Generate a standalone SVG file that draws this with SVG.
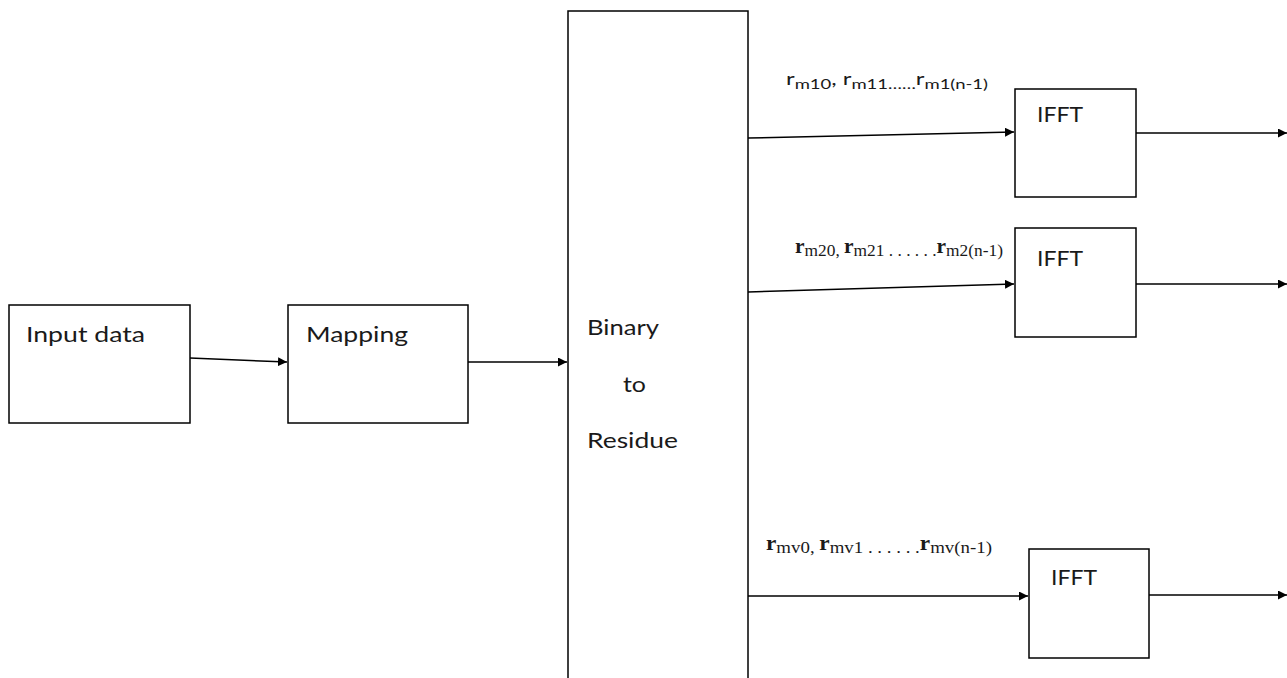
<svg xmlns="http://www.w3.org/2000/svg" width="1287" height="678" viewBox="0 0 1287 678">
<style>
.box{fill:#fff;stroke:#000;stroke-width:1.5}
.lbl{font-family:Lato,"Open Sans",sans-serif;font-size:22px;fill:#1a1a1a}
.sans{font-family:Lato,"Open Sans",sans-serif;fill:#1a1a1a}
.serif{font-family:"Liberation Serif",serif;fill:#1a1a1a}
.con{stroke:#000;stroke-width:1.5;fill:none;marker-end:url(#ah)}
</style>
<defs>
<marker id="ah" viewBox="0 0 10 10" refX="10" refY="5" markerWidth="9" markerHeight="9" markerUnits="userSpaceOnUse" orient="auto">
<path d="M0,0 L10,5 L0,10 z" fill="#000"/>
</marker>
</defs>
<rect width="1287" height="678" fill="#fff"/>
<g id="input">
<rect class="box" x="9" y="305" width="181" height="118"/>
<text class="lbl" x="26" y="342" textLength="119" lengthAdjust="spacingAndGlyphs">Input data</text>
</g>
<g id="mapping">
<rect class="box" x="288" y="305" width="180" height="118"/>
<text class="lbl" x="306" y="342" textLength="102" lengthAdjust="spacingAndGlyphs">Mapping</text>
</g>
<g id="binary">
<rect class="box" x="568" y="11" width="180" height="680"/>
<text class="lbl" x="587" y="335" textLength="72" lengthAdjust="spacingAndGlyphs">Binary</text>
<text class="lbl" x="623" y="392" textLength="23" lengthAdjust="spacingAndGlyphs">to</text>
<text class="lbl" x="587" y="448" textLength="91" lengthAdjust="spacingAndGlyphs">Residue</text>
</g>
<g id="ifft1">
<rect class="box" x="1015" y="89" width="121" height="108"/>
<text class="lbl" x="1037" y="122" font-size="19" textLength="46" lengthAdjust="spacingAndGlyphs">IFFT</text>
</g>
<g id="ifft2">
<rect class="box" x="1015" y="228" width="121" height="109"/>
<text class="lbl" x="1037" y="266" font-size="19" textLength="46" lengthAdjust="spacingAndGlyphs">IFFT</text>
</g>
<g id="ifft3">
<rect class="box" x="1029" y="549" width="120" height="109"/>
<text class="lbl" x="1051" y="585" font-size="19" textLength="46" lengthAdjust="spacingAndGlyphs">IFFT</text>
</g>
<g id="connectors">
<line class="con" x1="190" y1="358" x2="287" y2="362"/>
<line class="con" x1="468" y1="362" x2="567" y2="362"/>
<line class="con" x1="748" y1="138" x2="1014" y2="132"/>
<line class="con" x1="748" y1="292" x2="1014" y2="284"/>
<line class="con" x1="748" y1="596" x2="1028" y2="596"/>
<line class="con" x1="1136" y1="133" x2="1287" y2="133"/>
<line class="con" x1="1136" y1="284" x2="1287" y2="284"/>
<line class="con" x1="1149" y1="595" x2="1287" y2="595"/>
</g>
<g id="labels">
<text class="sans" x="786" y="85" font-size="18" textLength="202" lengthAdjust="spacingAndGlyphs">r<tspan font-size="14" dy="4">m10</tspan><tspan dy="-4">, r</tspan><tspan font-size="14" dy="4">m11</tspan><tspan font-size="14">……</tspan><tspan dy="-4">r</tspan><tspan font-size="14" dy="4">m1(n-1)</tspan></text>
<text class="serif" x="795" y="253" font-size="21" font-weight="bold" textLength="208" lengthAdjust="spacingAndGlyphs">r<tspan font-size="17" font-weight="normal" dy="3">m20</tspan><tspan font-weight="normal" font-size="17">, </tspan><tspan dy="-3">r</tspan><tspan font-size="17" font-weight="normal" dy="3">m21 . . . . . .</tspan><tspan dy="-3">r</tspan><tspan font-size="17" font-weight="normal" dy="3">m2(n-1)</tspan></text>
<text class="serif" x="766" y="550" font-size="21" font-weight="bold" textLength="226" lengthAdjust="spacingAndGlyphs">r<tspan font-size="17" font-weight="normal" dy="3">mv0</tspan><tspan font-weight="normal" font-size="17">, </tspan><tspan dy="-3">r</tspan><tspan font-size="17" font-weight="normal" dy="3">mv1 . . . . . .</tspan><tspan dy="-3">r</tspan><tspan font-size="17" font-weight="normal" dy="3">mv(n-1)</tspan></text>
</g>
</svg>
